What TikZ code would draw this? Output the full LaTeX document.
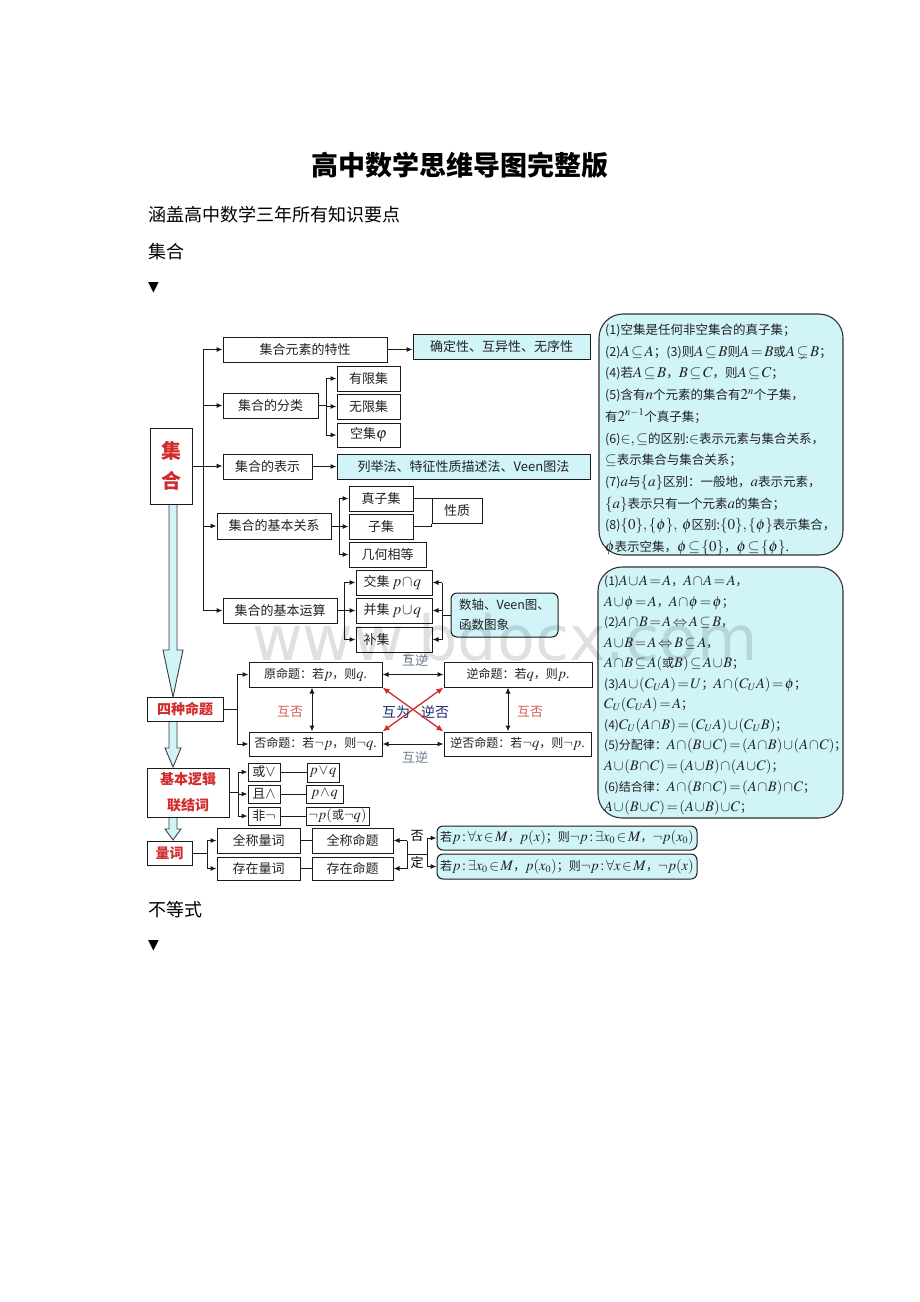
\documentclass[tikz,border=0pt]{standalone}
\usepackage{amssymb}
\usepackage{mathptmx}
\usepackage{fontspec}
\setmainfont{Noto Sans CJK SC}
\newfontfamily\symf{DejaVu Sans}
\usetikzlibrary{arrows.meta}
\DeclareMathSizes{12}{14.5}{10}{8}
\DeclareMathSizes{12.5}{15}{10.5}{8}
\DeclareMathSizes{13}{15.5}{11}{8}
\definecolor{cy}{HTML}{D0F4F8}
\definecolor{rd}{HTML}{D22B2B}
\definecolor{lrd}{HTML}{D4605A}
\definecolor{gb}{HTML}{6B7D92}
\definecolor{nv}{HTML}{1E2D6B}
\definecolor{ln}{HTML}{1A1A1A}
\definecolor{tx}{HTML}{222222}
\newcommand\fsz[1]{\fontsize{#1}{#1}\selectfont}
\newcommand\bx[7][]{\node[bxs,#1,minimum width={(#5)-(#3)},minimum height={(#6)-(#4)}] (#2) at ({((#3)+(#5))/2},{((#4)+(#6))/2}) {#7};}
\newcommand\harr[6]{\draw[hol] ({#1-#5},#2) -- ({#1-#5},#3) -- ({#1-#6},#3) -- (#1,#4) -- ({#1+#6},#3) -- ({#1+#5},#3) -- ({#1+#5},#2);}
\begin{document}
\thickmuskip=2mu\relax
\medmuskip=1mu\relax
\begin{tikzpicture}[x=1pt,y=-1pt,
 bxs/.style={draw=ln,line width=1pt,fill=white,inner sep=0pt,font=\fsz{13},text=tx,align=center},
 cyb/.style={fill=cy},
 rbx/.style={fill=cy,rounded corners=6pt},
 redt/.style={text=rd,font=\fsz{14}\bfseries},
 sm/.style={font=\fsz{12}},
 arr/.style={draw=ln,line width=1pt,-{Latex[length=6pt,width=5pt]}},
 darr/.style={draw=ln,line width=1pt,{Latex[length=6pt,width=5pt]}-{Latex[length=6pt,width=5pt]}},
 rarr/.style={draw=rd,line width=1.3pt,{Latex[length=7pt,width=6pt]}-{Latex[length=7pt,width=6pt]}},
 cn/.style={draw=ln,line width=1pt},
 hol/.style={draw=ln!85,line width=0.9pt,fill=cy},
 lbl/.style={inner sep=0pt,font=\fsz{13}},
 big/.style={draw=ln!90,line width=1.1pt,fill=cy,rounded corners=24pt},
 btxt/.style={anchor=base west,inner sep=0pt,text=tx,font=\fsz{12.5}}]
\useasboundingbox (0,0) rectangle (920,1302);
\fill[white] (0,0) rectangle (920,1302);

% page text
\node[inner sep=0pt,font=\fsz{27}\bfseries] (title) at (460,165) {高中数学思维导图完整版};
\node[anchor=west,inner sep=0pt,font=\fsz{18}] (sub) at (148,215) {涵盖高中数学三年所有知识要点};
\node[anchor=west,inner sep=0pt,font=\fsz{18}] (h1) at (148,252) {集合};
\node[anchor=west,inner sep=0pt,font=\symf\fsz{14}] (tri1) at (148,288) {▼};
\node[anchor=west,inner sep=0pt,font=\fsz{18}] (h2) at (148,910) {不等式};
\node[anchor=west,inner sep=0pt,font=\symf\fsz{14}] (tri2) at (148,946) {▼};

% hollow arrows
\harr{173}{504}{650}{697}{4}{10}
\harr{173}{721}{748}{767}{4}{8}
\harr{173}{817}{829}{840}{4}{8}

% left column
\bx[redt,font=\fsz{20}\bfseries]{jihe}{150}{428}{192}{504}{集\\[10pt]合}
\bx[redt]{sz4}{147}{697}{223}{721}{四种命题}
\bx[redt]{jb}{147}{768}{229}{817}{基本逻辑\\[12pt]联结词}
\bx[redt]{lc}{147}{841}{192}{865}{量词}

% set subtree
\bx{tx}{223}{337}{387}{362}{集合元素的特性}
\bx[cyb]{txr}{413}{334}{590}{359}{确定性、互异性、无序性}
\bx{fl}{223}{393}{318}{418}{集合的分类}
\bx{yx}{337}{366}{400}{391}{有限集}
\bx{wx}{337}{394}{400}{419}{无限集}
\bx{kj}{337}{423}{400}{447}{空集$\varphi$}
\bx{bs}{223}{454}{312}{479}{集合的表示}
\bx[cyb]{bsr}{337}{454}{590}{479}{列举法、特征性质描述法、Veen图法}
\bx{gx}{217}{513}{331}{539}{集合的基本关系}
\bx{zz}{349}{486}{413}{511}{真子集}
\bx{zj}{349}{514}{413}{539}{子集}
\bx{jh}{349}{542}{426}{567}{几何相等}
\bx{xz}{432}{498}{482}{523}{性质}
\bx{ys}{223}{598}{337}{623}{集合的基本运算}
\bx{jj}{356}{570}{432}{595}{\makebox[61pt][l]{交集\ $p\cap q$}}
\bx{bj}{356}{598}{432}{623}{\makebox[61pt][l]{并集\ $p\cup q$}}
\bx{bu}{356}{627}{432}{652}{\makebox[61pt][l]{补集}}
\bx[rbx,align=left,font=\fsz{12.5}]{sz}{451}{593}{558}{637}{数轴、Veen图、\\[7pt]函数图象}

% set connectors
\coordinate (T) at (203,349);
\draw[cn] (T |- tx.west) -- (T |- ys.west);
\draw[arr] (T |- tx.west) -- (tx.west);
\draw[arr] (T |- fl.west) -- (fl.west);
\draw[arr] (jihe.east) -- (jihe.east -| bs.west);
\draw[arr] (T |- gx.west) -- (gx.west);
\draw[arr] (T |- ys.west) -- (ys.west);
\draw[arr] (tx.east) -- (tx.east -| txr.west);
\draw[arr] (bs.east) -- (bsr.west);
\coordinate (B1) at (326,0);
\draw[cn] (fl.east) -- (fl.east -| B1);
\draw[cn] (B1 |- yx.west) -- (B1 |- kj.west);
\foreach \n in {yx,wx,kj} \draw[arr] (B1 |- \n.west) -- (\n.west);
\coordinate (B2) at (339,0);
\draw[cn] (gx.east) -- (gx.east -| B2);
\draw[cn] (B2 |- zz.west) -- (B2 |- jh.west);
\foreach \n in {zz,zj,jh} \draw[arr] (B2 |- \n.west) -- (\n.west);
\draw[cn] (zz.east) -- (zz.east -| xz.west);
\draw[cn] (zj.east) -- (zj.east -| xz.west) -- (xz.south west);
\coordinate (B3) at (344,0);
\draw[cn] (ys.east) -- (ys.east -| B3);
\draw[cn] (B3 |- jj.west) -- (B3 |- bu.west);
\foreach \n in {jj,bj,bu} \draw[arr] (B3 |- \n.west) -- (\n.west);
\coordinate (B5) at (442,0);
\draw[cn] (sz.west) -- (sz.west -| B5);
\draw[cn] (B5 |- jj.east) -- (B5 |- bu.east);
\foreach \n in {jj,bj,bu} \draw[arr] (B5 |- \n.east) -- (\n.east);

% right boxes
\draw[big] (599,314) rectangle (843,555);
\draw[big] (598,567) rectangle (843,818);
\foreach \s [count=\i] in {
 {(1)空集是任何非空集合的真子集；},
 {(2)$A\subseteq A$；(3)则$A\subseteq B$则$A=B$或$A\subsetneq B$；},
 {(4)若$A\subseteq B$，$B\subseteq C$，则$A\subseteq C$；},
 {(5)含有$n$个元素的集合有$2^n$个子集，},
 {有$2^{n-1}$个真子集；},
 {(6)$\in,\subseteq$的区别:$\in$表示元素与集合关系，},
 {$\subseteq$表示集合与集合关系；},
 {(7)$a$与$\{a\}$区别：一般地，$a$表示元素，},
 {$\{a\}$表示只有一个元素$a$的集合；},
 {(8)$\{0\},\{\phi\},\ \phi$区别:$\{0\},\{\phi\}$表示集合，},
 {$\phi$表示空集，$\phi\subseteq\{0\}$，$\phi\subseteq\{\phi\}$.}}
 {\node[btxt] (ra\i) at (605,{334.5+21.7*(\i-1)}) {\s};}
\foreach \s [count=\i] in {
 {(1)$A\cup A=A$，$A\cap A=A$，},
 {$A\cup\phi=A$，$A\cap\phi=\phi$；},
 {(2)$A\cap B=A\Leftrightarrow A\subseteq B$，},
 {$A\cup B=A\Leftrightarrow B\subseteq A$，},
 {$A\cap B\subseteq A($或$B)\subseteq A\cup B$；},
 {(3)$A\cup(C_UA)=U$；$A\cap(C_UA)=\phi$；},
 {$C_U(C_UA)=A$；},
 {(4)$C_U(A\cap B)=(C_UA)\cup(C_UB)$；},
 {(5)分配律：$A\cap(B\cup C)=(A\cap B)\cup(A\cap C)$；},
 {$A\cup(B\cap C)=(A\cup B)\cap(A\cup C)$；},
 {(6)结合律：$A\cap(B\cap C)=(A\cap B)\cap C$；},
 {$A\cup(B\cup C)=(A\cup B)\cup C$；}}
 {\node[btxt,font=\fsz{12}] (rb\i) at (604,{585.5+20.55*(\i-1)}) {\s};}

% four propositions
\bx[sm]{yuan}{249}{662}{382}{687}{原命题：若$p$，则$q$.}
\bx[sm]{ni}{444}{662}{592}{687}{逆命题：若$q$，则$p$.}
\bx[sm]{fou}{249}{732}{382}{756}{否命题：若$\neg p$，则$\neg q$.}
\bx[sm]{nf}{444}{732}{591}{756}{逆否命题：若$\neg q$，则$\neg p$.}
\coordinate (B6) at (237,0);
\draw[cn] (sz4.east) -- (sz4.east -| B6);
\draw[cn] (B6 |- yuan.west) -- (B6 |- fou.west);
\draw[arr] (B6 |- yuan.west) -- (yuan.west);
\draw[arr] (B6 |- fou.west) -- (fou.west);
\draw[darr] (yuan.east) -- (ni.west);
\draw[darr] (fou.east) -- (nf.west);
\coordinate (V1) at (312,0);
\coordinate (V2) at (508,0);
\draw[darr] (V1 |- yuan.south) -- (V1 |- fou.north);
\draw[darr] (V2 |- ni.south) -- (V2 |- nf.north);
\draw[rarr] (yuan.south east) -- (nf.north west);
\draw[rarr] (ni.south west) -- (fou.north east);
\node[lbl,text=gb] (hn1) at (415,660) {互逆};
\node[lbl,text=gb] (hn2) at (415,757) {互逆};
\node[lbl,text=lrd] (hf1) at (290,712) {互否};
\node[lbl,text=lrd] (hf2) at (530,712) {互否};
\node[lbl,text=nv,font=\fsz{14}] (hw) at (396,712) {互为};
\node[lbl,text=nv,font=\fsz{14}] (nfl) at (435,712) {逆否};

% logic connectives
\bx{huo}{248}{763}{280}{781}{或$\vee$}
\bx{qie}{248}{785}{280}{803}{且$\wedge$}
\bx{fei}{248}{807}{280}{825}{非$\neg$}
\bx[sm]{pv}{307}{763}{339}{782}{$p\vee q$}
\bx[sm]{pa}{306}{785}{343}{803}{$p\wedge q$}
\bx[sm]{pn}{306}{807}{369}{825}{$\neg p($或$\neg q)$}
\coordinate (B7) at (238,0);
\draw[cn] (jb.east) -- (jb.east -| B7);
\draw[cn] (B7 |- huo.west) -- (B7 |- fei.west);
\foreach \n in {huo,qie,fei} \draw[arr] (B7 |- \n.west) -- (\n.west);
\draw[cn] (huo.east) -- (huo.east -| pv.west);
\draw[cn] (qie.east) -- (qie.east -| pa.west);
\draw[cn] (fei.east) -- (fei.east -| pn.west);

% quantifiers
\bx{qc}{217}{828}{300}{853}{全称量词}
\bx{cz}{217}{857}{300}{880}{存在量词}
\bx{qcm}{312}{828}{393}{853}{全称命题}
\bx{czm}{312}{857}{393}{880}{存在命题}
\bx[rbx,font=\fsz{12}]{q1}{437}{826}{697}{850}{若$p:\forall x\in M$，$p(x)$；则$\neg p:\exists x_0\in M$，$\neg p(x_0)$}
\bx[rbx,font=\fsz{12}]{q2}{437}{854}{697}{879}{若$p:\exists x_0\in M$，$p(x_0)$；则$\neg p:\forall x\in M$，$\neg p(x)$}
\coordinate (B8) at (207,0);
\draw[cn] (lc.east) -- (lc.east -| B8);
\draw[cn] (B8 |- qc.west) -- (B8 |- cz.west);
\draw[arr] (B8 |- qc.west) -- (qc.west);
\draw[arr] (B8 |- cz.west) -- (cz.west);
\draw[cn] (qc.east) -- (qc.east -| qcm.west);
\draw[cn] (cz.east) -- (cz.east -| czm.west);
\coordinate (M1) at (407,854);
\coordinate (M2) at (427,854);
\draw[cn] (M1 |- qcm.east) -- (M1 |- czm.east);
\draw[arr] (M1 |- qcm.east) -- (qcm.east);
\draw[arr] (M1 |- czm.east) -- (czm.east);
\draw[cn] (M1) -- (M2);
\draw[cn] (M2 |- q1.west) -- (M2 |- q2.west);
\draw[arr] (M2 |- q1.west) -- (q1.west);
\draw[arr] (M2 |- q2.west) -- (q2.west);
\node[lbl] (fd1) at (417,836) {否};
\node[lbl] (fd2) at (417,863) {定};

% watermark
\node[anchor=base west,inner sep=0pt,font=\symf\fsz{62},text=black,opacity=0.12] (wm) at (252,660) {www.bdocx.com};
\end{tikzpicture}
\end{document}
